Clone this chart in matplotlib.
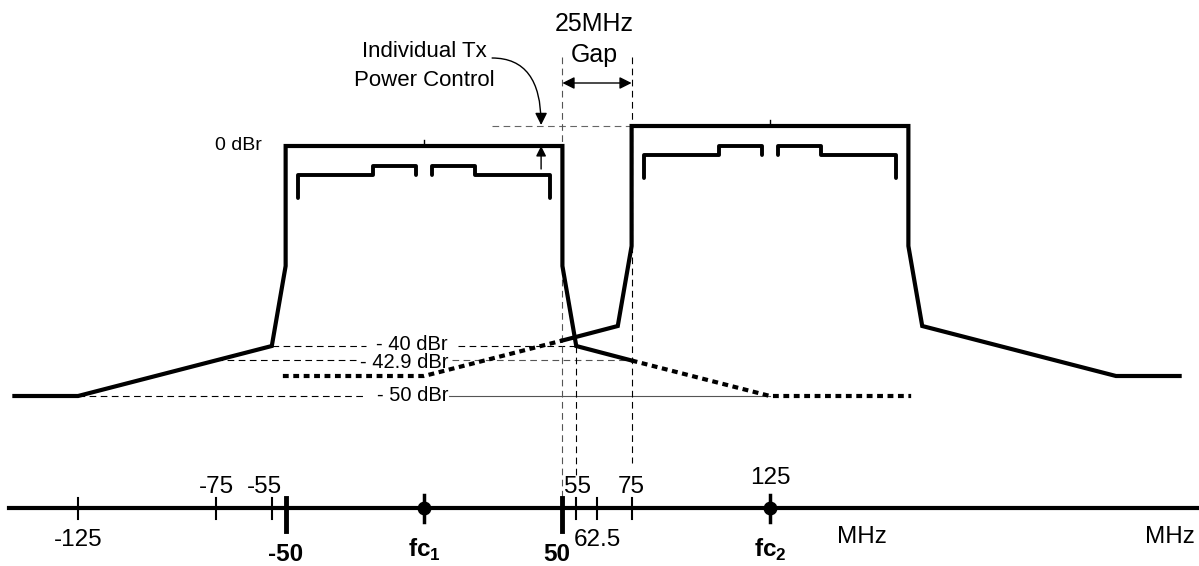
import numpy as np
import matplotlib.pyplot as plt

plt.rcParams['font.family'] = ['Liberation Sans', 'DejaVu Sans']
plt.rcParams['mathtext.fontset'] = 'custom'
plt.rcParams['mathtext.rm'] = 'Liberation Sans'
plt.rcParams['mathtext.bf'] = 'Liberation Sans:bold'

# Channel 1 (fc1 = 0 MHz), level relative to 0 dBr
ch1_x = [-148, -125, -55, -50, -50, 50, 50, 55, 75]
ch1_y = [-50, -50, -40, -24, 0, 0, -24, -40, -42.9]
ch1_dot_x = [75, 125, 176]
ch1_dot_y = [-42.9, -50, -50]

# Channel 2 (fc2 = 125 MHz), raised by the Tx power control step
ch2_x = [50, 70, 75, 75, 175, 175, 180, 250, 273]
ch2_y = [-38.9, -36, -20, 4, 4, -20, -36, -46, -46]
ch2_dot_x = [-51, 0, 50]
ch2_dot_y = [-46, -46, -38.9]

centers = [0, 125]
tops = [0, 4]

# inner subcarrier outline, offsets from channel centre / top
sub_x = [-45.5, -45.5, -18.5, -18.5, -3, -3]
sub_y = [-10.5, -5.8, -5.8, -4, -4, -5.8]

# frequency axis ticks
ticks_small = [-125, -75, -55, 55, 62.5, 75]
ticks_bold = [-50, 50]
ticks_fc = [0, 125]
ax_level = -72.4

fig = plt.figure(figsize=(11.99, 5.66), dpi=100)
ax = fig.add_axes([0, 0, 1, 1])
ax.set_xlim(-153.2, 280)
ax.set_ylim(-84, 29.2)
ax.axis('off')

# dashed reference lines (broken where the level labels sit)
dash = dict(lw=0.8, linestyle=(0, (6, 4)), zorder=1)
ax.plot([-55, -21], [-40, -40], color='k', **dash)
ax.plot([12.3, 55], [-40, -40], color='k', **dash)
ax.plot([-75, -24], [-42.9, -42.9], color='k', **dash)
ax.plot([10, 75], [-42.9, -42.9], color='#555555', **dash)
ax.plot([-125, -21], [-50, -50], color='k', **dash)
ax.plot([9, 125], [-50, -50], color='#555555', lw=0.8, zorder=1)
ax.plot([24.4, 75], [4, 4], color='#666666', **dash)
ax.plot([50, 50], [17.8, -70.4], color='#555555', **dash)
ax.plot([55, 55], [-40, -65.8], color='k', **dash)
ax.plot([75, 75], [17.8, -63.4], color='k', **dash)

# level labels
lbl = dict(fontsize=14.5, ha='right', va='center', zorder=2)
ax.text(8.7, -39.7, '- 40 dBr', **lbl)
ax.text(8.7, -43.4, '- 42.9 dBr', **lbl)
ax.text(8.7, -50, '- 50 dBr', **lbl)
ax.text(-58.5, 0, '0 dBr', fontsize=14, ha='right', va='center')

# spectrum masks
ax.plot(ch1_x, ch1_y, color='k', lw=3, zorder=3, solid_joinstyle='miter')
ax.plot(ch2_x, ch2_y, color='k', lw=3, zorder=3, solid_joinstyle='miter')
dots = dict(color='k', lw=3, linestyle=(0, (1.4, 1.1)), zorder=3)
ax.plot(ch1_dot_x, ch1_dot_y, **dots)
ax.plot(ch2_dot_x, ch2_dot_y, **dots)

for c, t in zip(centers, tops):
    sx = np.array(sub_x)
    sy = np.array(sub_y)
    ax.plot(c + sx, t + sy, color='k', lw=2.8, solid_capstyle='round', zorder=3)
    ax.plot(c - sx, t + sy, color='k', lw=2.8, solid_capstyle='round', zorder=3)
    ax.plot([c, c], [t, t + 1.2], color='k', lw=1, zorder=3)

# power control and gap annotations
ax.annotate('', xy=(42.3, 4.2), xytext=(24.6, 17.6),
            arrowprops=dict(arrowstyle='-|>', color='k', lw=1, mutation_scale=18,
                            connectionstyle='angle3,angleA=0,angleB=90',
                            shrinkA=0, shrinkB=0))
ax.annotate('', xy=(42.3, 0), xytext=(42.3, -4.6),
            arrowprops=dict(arrowstyle='-|>', color='k', lw=1, mutation_scale=15,
                            shrinkA=0, shrinkB=0))
ax.annotate('', xy=(50, 12.6), xytext=(75, 12.6),
            arrowprops=dict(arrowstyle='<|-|>', color='k', lw=1, mutation_scale=18,
                            shrinkA=0, shrinkB=0))
ax.text(0, 17.8, 'Individual Tx', fontsize=16, ha='center', va='baseline')
ax.text(0, 12.0, 'Power Control', fontsize=16, ha='center', va='baseline')
ax.text(61.4, 23, '25MHz', fontsize=18, ha='center', va='baseline')
ax.text(61.4, 16.8, 'Gap', fontsize=18, ha='center', va='baseline')

# frequency axis
ax.plot([-150, 280], [ax_level, ax_level], color='k', lw=3, zorder=3)
for t in ticks_small:
    ax.plot([t, t], [ax_level + 2.1, ax_level - 2.1], color='k', lw=1.5, zorder=3)
for t in ticks_bold:
    ax.plot([t, t], [ax_level + 2.0, ax_level - 4.6], color='k', lw=3.5, zorder=3)
for t in ticks_fc:
    ax.plot([t, t], [ax_level + 2.6, ax_level - 2.8], color='k', lw=2.5, zorder=3)
    ax.plot(t, ax_level, 'o', color='k', markersize=9, zorder=4)

num = dict(fontsize=17.5, ha='center', va='baseline')
ax.text(-75, -69.4, '-75', **num)
ax.text(-57.5, -69.4, '-55', **num)
ax.text(55.5, -69.4, '55', **num)
ax.text(75, -69.4, '75', **num)
ax.text(125, -67.7, '125', **num)
ax.text(-125, -80.0, '-125', **num)
ax.text(62.5, -80.0, '62.5', **num)
ax.text(-50, -83.0, '-50', fontweight='bold', **num)
ax.text(48, -83.0, '50', fontweight='bold', **num)
ax.text(0, -82.2, r'$\mathbf{fc}_\mathbf{1}$', **num)
ax.text(125, -82.2, r'$\mathbf{fc}_\mathbf{2}$', **num)
ax.text(158.2, -79.4, 'MHz', **num)
ax.text(269.5, -79.4, 'MHz', **num)

fig.savefig('out.png', dpi=100)
